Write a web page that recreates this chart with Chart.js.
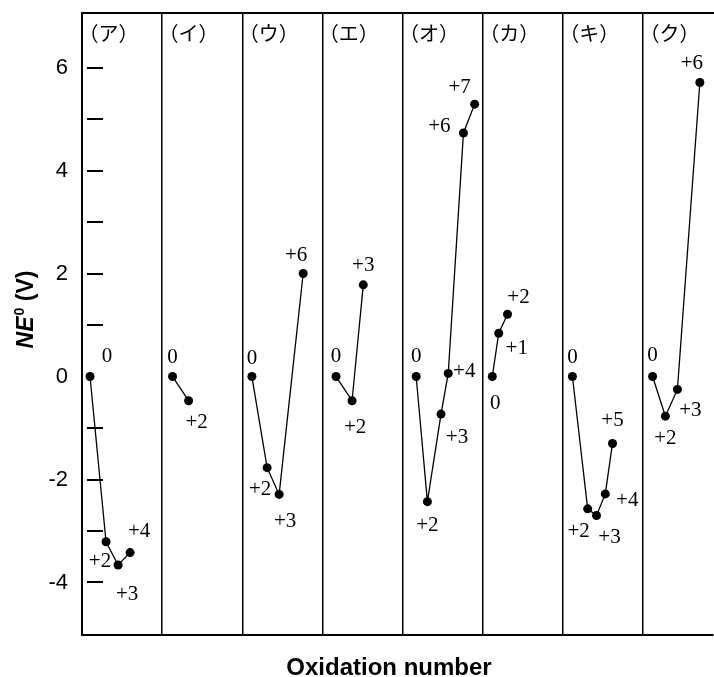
<!DOCTYPE html>
<html>
<head>
<meta charset="utf-8">
<script src="https://cdn.jsdelivr.net/npm/chart.js@4.4.0/dist/chart.umd.min.js"></script>
<style>
  body { margin: 0; background: #fff; }
  #wrap { width: 714px; height: 677px; }
</style>
</head>
<body>
<div id="wrap"><canvas id="frostChart" width="714" height="677"></canvas></div>
<script>
const panelLabels = ['（ア）', '（イ）', '（ウ）', '（エ）', '（オ）', '（カ）', '（キ）', '（ク）'];

// oxidation states plotted in each panel
const oxStates = [
  [0, 2, 3, 4],
  [0, 2],
  [0, 2, 3, 6],
  [0, 2, 3],
  [0, 2, 3, 4, 6, 7],
  [0, 1, 2],
  [0, 2, 3, 4, 5],
  [0, 2, 3, 6],
];

// x = panel index + place inside the panel
const xPos = [
  [0.10, 0.30, 0.45, 0.60],
  [1.13, 1.33],
  [2.12, 2.31, 2.46, 2.76],
  [3.17, 3.37, 3.51],
  [4.17, 4.31, 4.48, 4.57, 4.76, 4.90],
  [5.12, 5.20, 5.31],
  [6.12, 6.31, 6.42, 6.53, 6.62],
  [7.12, 7.28, 7.43, 7.71],
];

// NE0 in volts
const neValues = [
  [0, -3.21, -3.66, -3.42],
  [0, -0.47],
  [0, -1.77, -2.29, 2.00],
  [0, -0.47, 1.78],
  [0, -2.43, -0.73, 0.06, 4.73, 5.29],
  [0, 0.84, 1.21],
  [0, -2.57, -2.70, -2.28, -1.30],
  [0, -0.77, -0.25, 5.71],
];

const yTickLabels = [-4, -2, 0, 2, 4, 6];
const dashValues = [-4, -3, -2, -1, 1, 2, 3, 4, 5, 6];

// where each oxidation label sits relative to its point (px)
const labelNudge = [
  [[17, -20], [-6, 20], [9, 30], [9, -21]],
  [[0, -19], [8, 22]],
  [[0, -18], [-7, 22], [6, 27], [-7, -18]],
  [[0, -20], [3, 27], [0, -19]],
  [[0, -20], [0, 24], [16, 23], [16, -2], [-24, -6], [-15, -17]],
  [[3, 27], [18, 15], [11, -17]],
  [[0, -19], [-9, 23], [13, 22], [22, 7], [0, -23]],
  [[0, -21], [0, 22], [13, 21], [-8, -19]],
];

const sansFont = 'Arial, "Liberation Sans", sans-serif';
const xMax = 7.874;

const fmtOx = (n) => (n === 0 ? '0' : '+' + n);

const datasets = panelLabels.map((label, i) => ({
  label: label,
  data: xPos[i].map((x, j) => ({ x: x, y: neValues[i][j] })),
  showLine: true,
  borderColor: '#000',
  borderWidth: 1.3,
  backgroundColor: '#000',
  pointRadius: 4.5,
  pointBorderWidth: 0,
  pointBackgroundColor: '#000',
}));

const frostDecor = {
  id: 'frostDecor',
  beforeDatasetsDraw(chart) {
    const { ctx, chartArea: area, scales: { x, y } } = chart;
    ctx.save();
    ctx.strokeStyle = '#000';
    ctx.lineWidth = 2;
    dashValues.forEach((v) => {
      const py = Math.round(y.getPixelForValue(v));
      ctx.beginPath();
      ctx.moveTo(area.left + 5, py);
      ctx.lineTo(area.left + 21, py);
      ctx.stroke();
    });

    ctx.fillStyle = '#000';
    ctx.font = '20px "Noto Sans CJK JP"';
    ctx.textAlign = 'center';
    ctx.textBaseline = 'middle';
    panelLabels.forEach((label, i) => {
      ctx.fillText(label, x.getPixelForValue(i + 0.33), area.top + 20);
    });
    ctx.restore();
  },
  afterDatasetsDraw(chart) {
    const { ctx } = chart;
    ctx.save();
    ctx.fillStyle = '#000';
    ctx.font = '21px "Liberation Serif", "Times New Roman", serif';
    ctx.textAlign = 'center';
    ctx.textBaseline = 'middle';
    oxStates.forEach((states, i) => {
      const meta = chart.getDatasetMeta(i);
      meta.data.forEach((pt, j) => {
        const nudge = labelNudge[i][j];
        ctx.fillText(fmtOx(states[j]), pt.x + nudge[0], pt.y + nudge[1]);
      });
    });
    ctx.restore();
  },
  afterDraw(chart) {
    const { ctx } = chart;
    ctx.save();
    ctx.fillStyle = '#000';

    // y title: NE0 (V), rotated
    const fMain = 'italic bold 23px ' + sansFont;
    const fSup = 'bold 14px ' + sansFont;
    const fUnit = 'bold 23px ' + sansFont;
    ctx.font = fMain;
    const w1 = ctx.measureText('NE').width;
    ctx.font = fSup;
    const w2 = ctx.measureText('0').width;
    ctx.font = fUnit;
    const w3 = ctx.measureText(' (V)').width;
    const total = w1 + w2 + w3;
    ctx.translate(33, 310);
    ctx.rotate(-Math.PI / 2);
    ctx.textAlign = 'left';
    ctx.textBaseline = 'alphabetic';
    let cx = -total / 2;
    ctx.font = fMain;
    ctx.fillText('NE', cx, 0);
    cx += w1 + 1;
    ctx.font = fSup;
    ctx.fillText('0', cx, -9);
    cx += w2;
    ctx.font = fUnit;
    ctx.fillText(' (V)', cx, 0);
    ctx.restore();

    ctx.save();
    ctx.fillStyle = '#000';
    ctx.font = 'bold 24px ' + sansFont;
    ctx.textAlign = 'center';
    ctx.textBaseline = 'alphabetic';
    ctx.fillText('Oxidation number', 389, 675);
    ctx.restore();
  },
};

new Chart(document.getElementById('frostChart'), {
  type: 'scatter',
  data: { datasets: datasets },
  options: {
    responsive: false,
    animation: false,
    layout: { autoPadding: false, padding: { left: 0, right: 1, top: 0, bottom: 0 } },
    plugins: {
      legend: { display: false },
      tooltip: { enabled: false },
    },
    scales: {
      x: {
        type: 'linear',
        position: 'bottom',
        min: 0,
        max: xMax,
        afterFit: (s) => { s.height = 42; s.paddingLeft = 0; s.paddingRight = 0; },
        ticks: { display: false, stepSize: 1, includeBounds: false },
        grid: {
          drawTicks: false,
          lineWidth: 1.5,
          color: (c) => (c.tick && Number.isInteger(c.tick.value) && c.tick.value > 0 && c.tick.value < 8)
            ? '#000' : 'rgba(0,0,0,0)',
        },
        border: { display: true, color: '#000', width: 2 },
      },
      xTop: {
        type: 'linear',
        axis: 'x',
        position: 'top',
        min: 0,
        max: xMax,
        afterFit: (s) => { s.height = 13; s.paddingLeft = 0; s.paddingRight = 0; },
        ticks: { display: false },
        grid: { display: false, drawTicks: false },
        border: { display: true, color: '#000', width: 2 },
      },
      y: {
        type: 'linear',
        min: -5.02,
        max: 7.06,
        afterFit: (s) => { s.width = 82; s.paddingTop = 0; s.paddingBottom = 0; },
        ticks: {
          stepSize: 2,
          includeBounds: false,
          padding: 14,
          color: '#000',
          font: { family: sansFont, size: 22 },
          callback: (v) => (yTickLabels.includes(v) ? String(v) : null),
        },
        grid: { display: false, drawTicks: false },
        border: { display: true, color: '#000', width: 2 },
      },
    },
  },
  plugins: [frostDecor],
});
</script>
</body>
</html>
